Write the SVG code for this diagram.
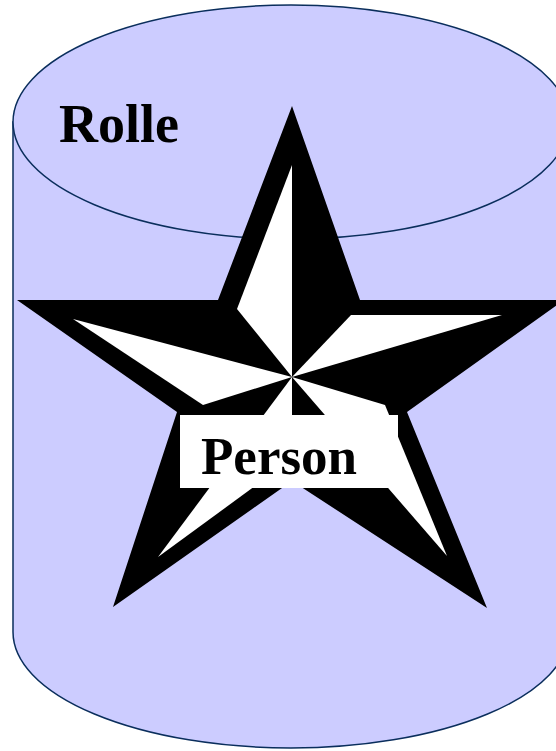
<svg xmlns="http://www.w3.org/2000/svg" width="556" height="751" viewBox="0 0 556 751">
  <style>
    .cyl { fill: #CCCCFF; stroke: #0A2E5C; stroke-width: 1.5; }
    .blk { fill: #000000; }
    .wht { fill: #FFFFFF; }
    .lbl { font-family: "Liberation Serif", "Times New Roman", serif; font-weight: bold; fill: #000000; }
  </style>
  <rect width="556" height="751" fill="#FFFFFF"/>
  <g id="rolle">
    <path class="cyl" d="M 13,122 L 13,632 A 278,116 0 0 0 569,632 L 569,122 Z"/>
    <ellipse class="cyl" cx="291" cy="122" rx="278" ry="117"/>
    <text class="lbl" x="59" y="142" font-size="54">Rolle</text>
  </g>
  <g id="person">
    <polygon class="blk" points="292,106 360,300 564,300 407,412 487,608 292,481 113,607 177,412 17,300 218,300"/>
    <polygon class="wht" points="292,165 237,309 292,377"/>
    <polygon class="wht" points="502,315 351,315 292,377"/>
    <polygon class="wht" points="447,556 385,405 292,377"/>
    <polygon class="wht" points="158,557 292,459 292,377"/>
    <polygon class="wht" points="73,319 203,405 292,377"/>
    <rect class="wht" x="180" y="415" width="218" height="73"/>
    <text class="lbl" x="201" y="474" font-size="53">Person</text>
  </g>
  <g id="connectors"/>
</svg>
